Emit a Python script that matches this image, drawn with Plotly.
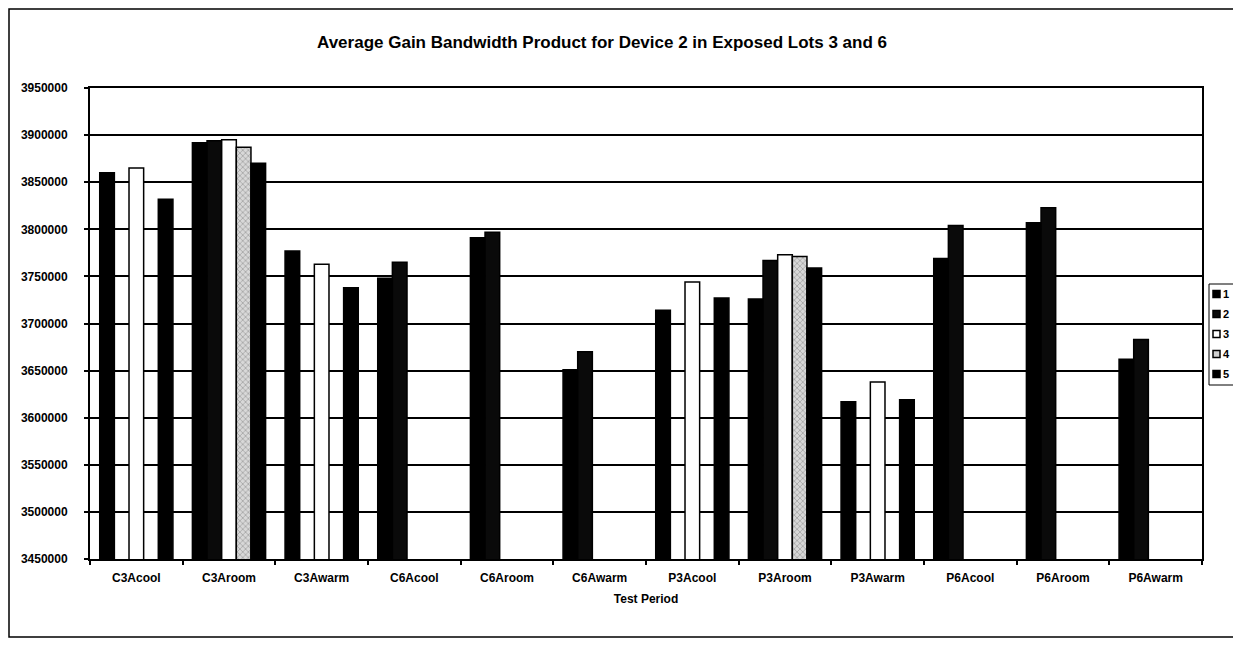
import plotly.graph_objects as go

categories = ["C3Acool", "C3Aroom", "C3Awarm", "C6Acool", "C6Aroom", "C6Awarm",
              "P3Acool", "P3Aroom", "P3Awarm", "P6Acool", "P6Aroom", "P6Awarm"]
series_names = ["1", "2", "3", "4", "5"]
s1 = [3860000, 3892000, 3777000, 3748000, 3791000, 3651000, 3714000, 3726000, 3617000, 3769000, 3807000, 3662000]
s2 = [None, 3894000, None, 3765000, 3797000, 3670000, None, 3767000, None, 3804000, 3823000, 3683000]
s3 = [3865000, 3895000, 3763000, None, None, None, 3744000, 3773000, 3638000, None, None, None]
s4 = [None, 3887000, None, None, None, None, None, 3771000, None, None, None, None]
s5 = [3832000, 3870000, 3738000, None, None, None, 3727000, 3759000, 3619000, None, None, None]
series_values = [s1, s2, s3, s4, s5]

y_min, y_max, y_step = 3450000, 3950000, 50000
title_text = "Average Gain Bandwidth Product for Device 2 in Exposed Lots 3 and 6"
x_title = "Test Period"

FONT = "Arial, Liberation Sans, Helvetica, sans-serif"
fills = ["#000000", "#0a0a0a", "#ffffff", "#d0d0d0", "#000000"]

# page has an 8px body margin; figure coordinates = page coordinates - 8
OFF = 8
W, H = 1233, 630
L, R, T, B = 90 - OFF, 1202 - OFF, 88 - OFF, 559 - OFF
pw, ph = R - L, B - T


def px(xpage):
    return (xpage - OFF - L) / pw


def py(ypage):
    return (B - (ypage - OFF)) / ph


fig = go.Figure()
for i, (name, vals) in enumerate(zip(series_names, series_values)):
    marker = dict(color=fills[i], line=dict(color="#000000", width=1.5))
    if name == "4":
        marker["pattern"] = dict(shape="x", fgcolor="#7a7a7a", bgcolor="#d8d8d8", size=4, solidity=0.4)
    fig.add_trace(go.Bar(name=name, x=categories, y=vals, marker=marker, showlegend=False))

fig.update_layout(
    width=W, height=H,
    margin=dict(l=L, r=W - R, t=T, b=H - B, pad=0, autoexpand=False),
    paper_bgcolor="white", plot_bgcolor="white",
    barmode="group", bargap=0.21, bargroupgap=0,
    font=dict(family=FONT, size=11, color="black"),
    title=dict(text=title_text, font=dict(family=FONT, size=17, color="black", weight="bold"),
               x=px(602), xref="paper", xanchor="center",
               y=1 - (42 - OFF) / H, yref="container", yanchor="middle"),
    showlegend=False,
)
fig.update_xaxes(
    type="category", showline=True, linecolor="black", linewidth=2, mirror=True,
    ticks="outside", tickson="boundaries", ticklen=4, tickcolor="black", tickwidth=1.5,
    tickfont=dict(family=FONT, size=12, weight="bold"), ticklabelstandoff=7, showgrid=False,
    title=dict(text=x_title, font=dict(family=FONT, size=12, weight="bold"), standoff=10),
    automargin=False,
)
fig.update_yaxes(
    range=[y_min, y_max], dtick=y_step, tick0=y_min, showline=True, linecolor="black",
    linewidth=2, mirror=True, ticks="outside", ticklen=4, tickcolor="black", tickwidth=1.5,
    tickfont=dict(family=FONT, size=12, weight="bold"), tickformat="d", ticklabelstandoff=14,
    showgrid=True, gridcolor="black", gridwidth=1.5, zeroline=False, automargin=False,
)

# outer chart frame (left, top, bottom edges visible; right edge off-page)
fig.add_shape(type="rect", xref="paper", yref="paper",
              x0=px(OFF + 1), x1=px(1270), y0=py(OFF + H - 1), y1=py(OFF + 1),
              line=dict(color="black", width=1.5), fillcolor="rgba(0,0,0,0)", layer="below")

# legend (box, swatches, labels) in the style of the original chart
fig.add_shape(type="rect", xref="paper", yref="paper",
              x0=px(1209), x1=px(1270), y0=py(385), y1=py(284),
              line=dict(color="black", width=1), fillcolor="white")
for i, name in enumerate(series_names):
    yc = 294 + 20 * i
    fig.add_shape(type="rect", xref="paper", yref="paper",
                  x0=px(1213), x1=px(1220), y0=py(yc + 3.5), y1=py(yc - 3.5),
                  line=dict(color="black", width=1.5), fillcolor=fills[i])
    fig.add_annotation(text=name, xref="paper", yref="paper", x=px(1221), y=py(yc),
                       xanchor="left", yanchor="middle", showarrow=False,
                       font=dict(family=FONT, size=11, weight="bold", color="black"))

fig.write_html("out.html")
